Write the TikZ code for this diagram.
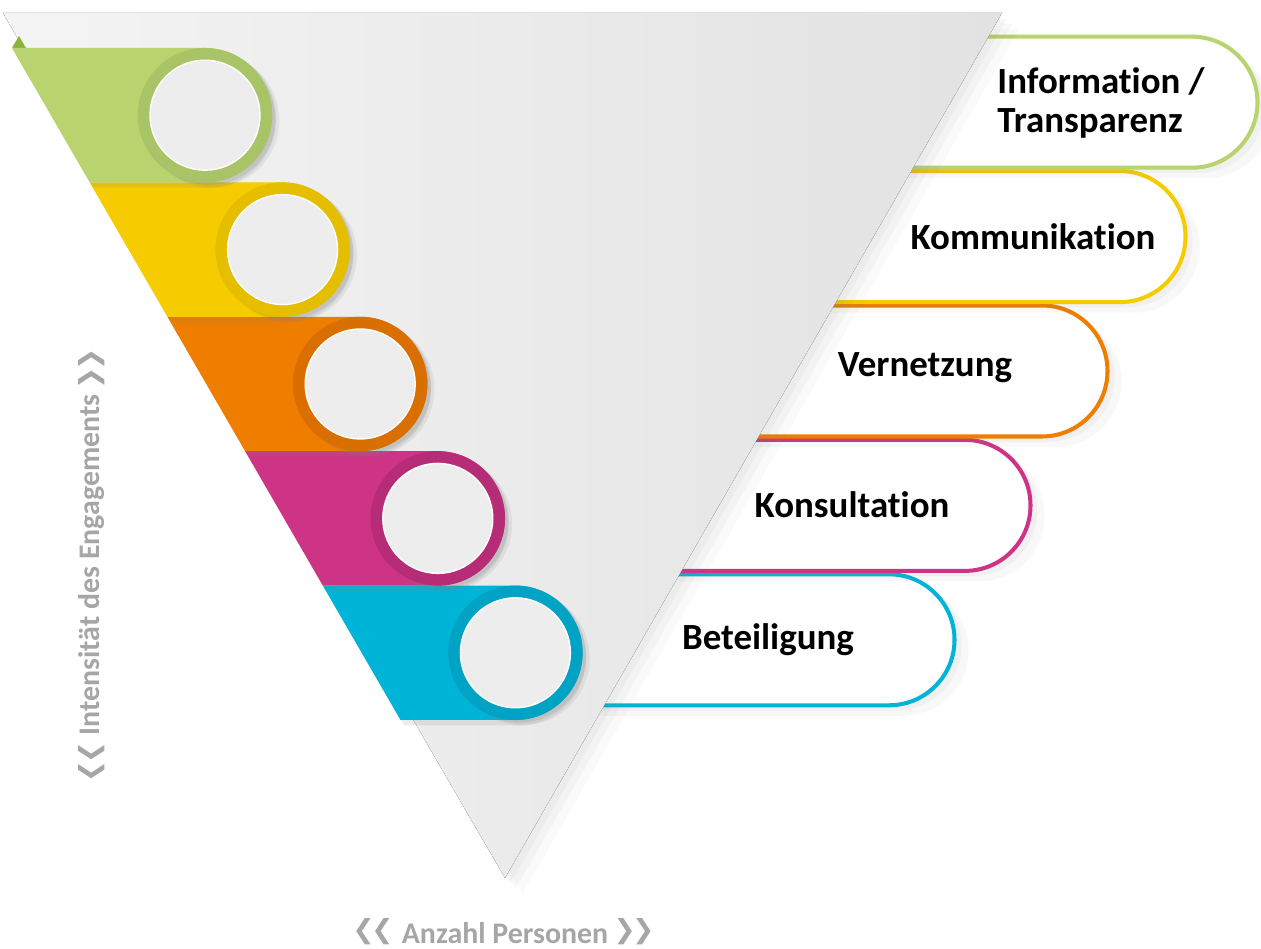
\documentclass[tikz,border=0pt]{standalone}
\usepackage{fontspec}
\setmainfont{Carlito}[Ligatures=NoCommon]
\newfontfamily\chevfont{DejaVu Sans}
\usetikzlibrary{shadows}

\definecolor{grn}{HTML}{B9D36E}
\definecolor{grnring}{HTML}{A8C467}
\definecolor{grnflap}{HTML}{8DB43A}
\definecolor{ylw}{HTML}{F6CC00}
\definecolor{ylwring}{HTML}{E5BE00}
\definecolor{org}{HTML}{EE7D00}
\definecolor{orgring}{HTML}{D86F00}
\definecolor{mag}{HTML}{CE3485}
\definecolor{magring}{HTML}{B72C76}
\definecolor{cyn}{HTML}{00B4D8}
\definecolor{cynring}{HTML}{00A3C4}
\definecolor{trileft}{HTML}{F4F4F4}
\definecolor{triright}{HTML}{E2E2E2}
\definecolor{discgray}{HTML}{EDEDED}
\definecolor{axgray}{HTML}{A6A6A6}

\begin{document}
\begin{tikzpicture}[
        x=0.02cm, y=0.02cm,
        pill/.style={fill=white, line width=2.3pt,
            drop shadow={opacity=.05, shadow xshift=8pt, shadow yshift=-6pt},
            drop shadow={opacity=.06, shadow xshift=4pt, shadow yshift=-3pt}},
        tri/.style={left color=trileft, right color=triright,
            drop shadow={opacity=.04, shadow xshift=10pt, shadow yshift=-9pt},
            drop shadow={opacity=.05, shadow xshift=6pt, shadow yshift=-6pt},
            drop shadow={opacity=.06, shadow xshift=3pt, shadow yshift=-3pt}},
        band/.style={drop shadow={opacity=.15, shadow xshift=2pt, shadow yshift=-3pt}},
        ring/.style={circle, minimum size=2.69cm, inner sep=0pt,
            drop shadow={opacity=.12, shadow xshift=4pt, shadow yshift=-3pt},
            drop shadow={opacity=.18, shadow xshift=2pt, shadow yshift=-1.5pt}},
        disc/.style={circle, minimum size=2.2cm, inner sep=0pt,
            fill=discgray, draw=white, line width=0.8pt},
        lbl/.style={font=\fontsize{21}{22}\selectfont\bfseries, align=left},
        axis/.style={text=axgray, font=\fontsize{17}{19}\selectfont\bfseries},
        chev/.style={font=\chevfont\bfseries\fontsize{15}{17}\selectfont},
        ]
    \path[use as bounding box, fill=white] (0,0) rectangle (1261,949);

    % pills behind the triangle
    \draw[pill, draw=cyn] (500,374.7) -- (889,374.7)
        arc[start angle=90, end angle=-90, radius=65.5] -- (500,243.7) -- cycle;
    \draw[pill, draw=mag] (550,509.1) -- (965,509.1)
        arc[start angle=90, end angle=-90, radius=65.5] -- (550,378.1) -- cycle;
    \draw[pill, draw=org] (600,643.5) -- (1042,643.5)
        arc[start angle=90, end angle=-90, radius=65.5] -- (600,512.5) -- cycle;
    \draw[pill, draw=ylw] (650,777.9) -- (1120,777.9)
        arc[start angle=90, end angle=-90, radius=65.5] -- (650,646.9) -- cycle;
    \draw[pill, draw=grn] (700,912.3) -- (1192,912.3)
        arc[start angle=90, end angle=-90, radius=65.5] -- (700,781.3) -- cycle;

    % the funnel
    \fill[tri] (3,936) -- (1002,936) -- (505,71) -- cycle;
    \fill[grnflap] (12,901) -- (19,913) -- (26,901) -- cycle;

    % bands, lowest first
    \fill[band, cyn] (322.8,363.4) -- (515.4,363.4)
        arc[start angle=90, end angle=-90, radius=67.2] -- (400.5,229) -- cycle;
    \node[ring, fill=cynring] (r5) at (515.4,296.2) {};
    \node[disc] (d5) at (r5) {};

    \fill[band, mag] (245.1,497.8) -- (437.8,497.8)
        arc[start angle=90, end angle=-90, radius=67.2] -- (322.8,363.4) -- cycle;
    \node[ring, fill=magring] (r4) at (437.8,430.6) {};
    \node[disc] (d4) at (r4) {};

    \fill[band, org] (167.4,632.2) -- (360.2,632.2)
        arc[start angle=90, end angle=-90, radius=67.2] -- (245.1,497.8) -- cycle;
    \node[ring, fill=orgring] (r3) at (360.2,565) {};
    \node[disc] (d3) at (r3) {};

    \fill[band, ylw] (89.7,766.6) -- (282.6,766.6)
        arc[start angle=90, end angle=-90, radius=67.2] -- (167.4,632.2) -- cycle;
    \node[ring, fill=ylwring] (r2) at (282.6,699.4) {};
    \node[disc] (d2) at (r2) {};

    \fill[band, grn] (12,901) -- (205,901)
        arc[start angle=90, end angle=-90, radius=67.2] -- (89.7,766.6) -- cycle;
    \node[ring, fill=grnring] (r1) at (205,833.8) {};
    \node[disc] (d1) at (r1) {};

    % labels
    \node[lbl] (info) at (1101,846) {Information /\\Transparenz};
    \node[lbl] (komm) at (1033,712) {Kommunikation};
    \node[lbl] (vern) at (925,581) {Vernetzung};
    \node[lbl] (kons) at (852,444) {Konsultation};
    \node[lbl] (beteil) at (768,309) {Beteiligung};

    \node[axis, rotate=90] (intens) at (92,384)
        {Intensität des Engagements};
    \node[chev, text=axgray, rotate=90] (intens-l) at (92,187) {❮\kern-0.12em❮};
    \node[chev, text=axgray, rotate=90] (intens-r) at (92,580) {❯\kern-0.12em❯};
    \node[axis] (anzahl) at (505,16) {Anzahl Personen};
    \node[chev, text=axgray] (anzahl-l) at (373,17) {❮\kern-0.12em❮};
    \node[chev, text=axgray] (anzahl-r) at (634,17) {❯\kern-0.12em❯};
\end{tikzpicture}
\end{document}
